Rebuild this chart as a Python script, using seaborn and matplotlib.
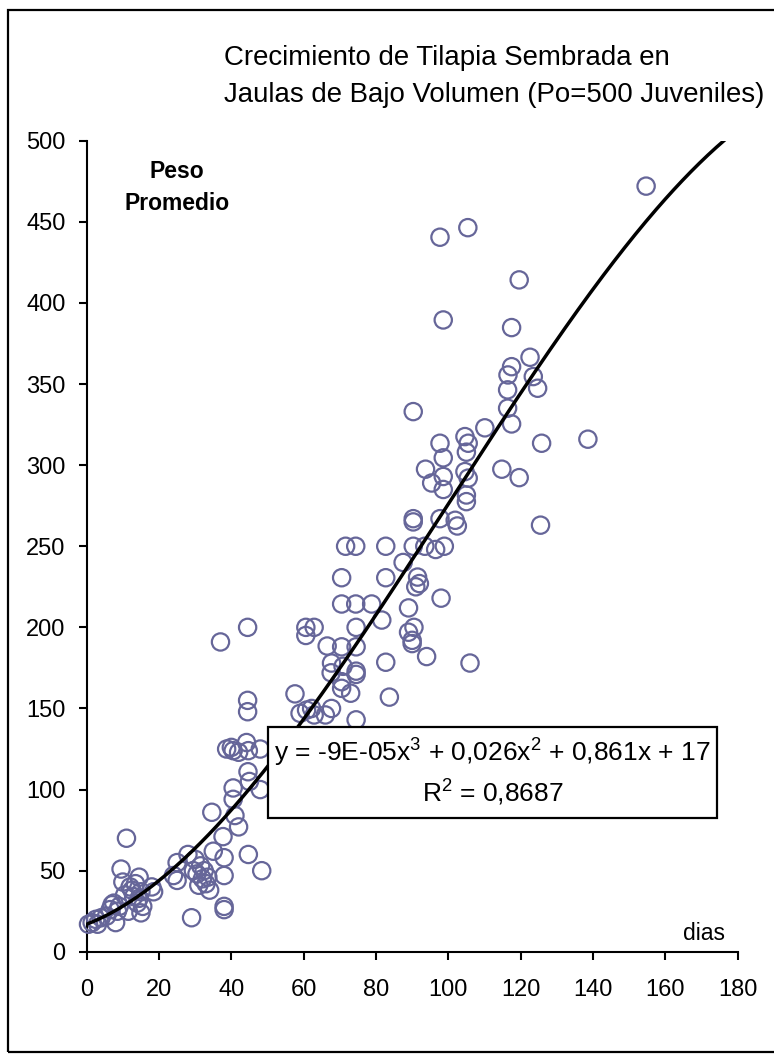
import numpy as np
import pandas as pd
import seaborn as sns
import matplotlib
matplotlib.use("Agg")
import matplotlib.pyplot as plt
from matplotlib.patches import Rectangle

# ---------------- data ----------------
dias = [0.5, 1.5, 2.5, 3, 4, 5.5, 6.5, 7, 7.5, 8, 8.5, 9, 9.5, 10, 10.5, 11, 11.5, 12, 12.5, 13,
        13.5, 14, 14.5, 14.5, 15, 15, 15.5, 18, 18.5,
        24, 25, 25, 28, 29, 29.5, 30, 30.5, 31, 31.5, 32, 32.5, 33, 33.5, 34, 35, 34.6, 37, 38, 38,
        38, 38, 37.7, 38.7, 40, 40.5, 42, 40.5, 40.5, 41, 42, 44.5, 44.5, 44.5, 44.2, 44.7, 44.6, 45,
        48, 48, 48.4, 44.7,
        57.6, 59, 60.6, 62.9, 60.6, 60.8, 62.2, 62.9, 66.5, 67.7, 67.6, 67.7, 66, 70.5, 74.5, 70.9,
        74.5, 74.5, 70.5, 70.5, 73, 74.5, 74.5, 71.6, 74.4, 82.7, 70.5, 82.7, 70.5, 74.4, 78.8, 81.6,
        82.7, 83.7,
        90.3, 87.5, 89, 89, 90, 90, 90.5, 91, 91.5, 92, 94, 98, 90.3, 90.3, 90.3, 93.5, 96.5, 98.9,
        93.7, 95.4, 97.7, 98.6, 98.6, 98.6, 98.6, 97.7, 97.7, 101.9, 102.5,
        104.6, 105.5, 105, 104.6, 105.5, 105, 105, 105.4, 106, 110.1, 114.8, 116.5, 116.4, 116.4,
        117.5, 117.5, 117.5, 119.6, 119.6, 122.6, 123.5, 124.7, 125.8, 125.5, 138.6, 154.7]
peso = [17, 18, 20, 17, 21, 22, 26, 29, 30, 18, 25, 28, 51, 43, 35, 70, 25, 40, 38, 34,
        42, 30, 33, 46, 37, 24, 28, 40, 37,
        47, 44, 55, 60, 21, 50, 57, 48, 41, 53, 45, 50, 42, 46, 38, 62, 86, 191, 28, 26,
        47, 58, 71, 125, 126, 124, 123, 101, 94, 84, 77, 200, 155, 148, 129, 124, 111, 105,
        125, 100, 50, 60,
        159, 147, 200, 200, 195, 149, 150, 146, 188.5, 178, 172, 150, 146, 188, 188, 176,
        173, 171, 166.5, 162.4, 159.4, 143, 200, 250, 250, 250, 230.6, 230.6, 214.4, 214.4, 214.4, 204.5,
        178.5, 157,
        333, 240, 212, 197, 192, 190, 200, 225, 231, 227, 182, 218, 267, 265, 250, 250, 248, 250,
        297.5, 289, 313.5, 304.5, 293, 285, 389.5, 440.5, 267, 266, 262.5,
        317.6, 313.5, 308, 296, 292, 281.6, 277.5, 446.4, 178, 323, 297.5, 355.6, 346.4, 335.1,
        360.7, 384.8, 325.4, 414.2, 292.3, 366.5, 354.6, 347.4, 313.5, 263, 316, 472]

# trendline coefficients (cubic, highest power first)
coef = [-8.7e-05, 0.026, 0.861, 17.0]
trend_end = 176.5

x_ticks = [0, 20, 40, 60, 80, 100, 120, 140, 160, 180]
y_ticks = [0, 50, 100, 150, 200, 250, 300, 350, 400, 450, 500]

title_lines = ["Crecimiento de Tilapia Sembrada en",
               "Jaulas de Bajo Volumen (Po=500 Juveniles)"]
ylabel_lines = ["Peso", "Promedio"]
xlabel = "dias"
eq_line1 = r"y = -9E-05x$^{\mathrm{3}}$ + 0,026x$^{\mathrm{2}}$ + 0,861x + 17"
eq_line2 = r"R$^{\mathrm{2}}$ = 0,8687"

# ---------------- style ----------------
sns.set_theme(style="white")
plt.rcParams['font.family'] = ['Liberation Sans', 'DejaVu Sans']
plt.rcParams['mathtext.fontset'] = 'custom'
plt.rcParams['mathtext.rm'] = 'Liberation Sans'
plt.rcParams['mathtext.it'] = 'Liberation Sans:italic'
plt.rcParams['mathtext.bf'] = 'Liberation Sans:bold'
plt.rcParams['text.color'] = 'black'
plt.rcParams['xtick.color'] = 'black'
plt.rcParams['ytick.color'] = 'black'
plt.rcParams['axes.labelcolor'] = 'black'

W, H = 774, 1063
fig = plt.figure(figsize=(W / 100, H / 100), dpi=100)
fig.patch.set_facecolor('white')

x0, x1 = 86.7, 737.6
y_top, y_bot = 140.7, 951.8
ax = fig.add_axes([x0 / W, 1 - y_bot / H, (x1 - x0) / W, (y_bot - y_top) / H])
ax.set_facecolor('none')

mcolor = '#666699'
df = pd.DataFrame({'dias': dias, 'peso': peso})
sns.scatterplot(data=df, x='dias', y='peso', ax=ax, marker='o', s=155,
                facecolor='none', edgecolor=mcolor, linewidth=1.6,
                clip_on=False, zorder=3, legend=False)
for coll in ax.collections:
    coll.set_facecolor('none')
    coll.set_edgecolor(mcolor)

xs = np.linspace(0, trend_end, 300)
ys = np.polyval(coef, xs)
sns.lineplot(x=xs, y=ys, ax=ax, color='black', linewidth=2.5, zorder=4,
             legend=False, sort=False, estimator=None)

ax.set_xlim(0, 180)
ax.set_ylim(0, 500)
ax.set_xticks(x_ticks)
ax.set_yticks(y_ticks)
ax.set_xticklabels([str(t) for t in x_ticks])
ax.set_yticklabels([str(t) for t in y_ticks])
ax.set_xlabel('')
ax.set_ylabel('')
for s in ['top', 'right']:
    ax.spines[s].set_visible(False)
for s in ['left', 'bottom']:
    ax.spines[s].set_color('black')
    ax.spines[s].set_linewidth(1.5)
ax.tick_params(axis='both', which='major', direction='out', length=5.8, width=1.5,
               color='black', labelsize=17, labelcolor='black')
ax.tick_params(axis='x', pad=14, bottom=True)
ax.tick_params(axis='y', pad=9.5, left=True)
ax.grid(False)

# title
fig.text(224 / W, 1 - 65 / H, title_lines[0], fontsize=19.9, ha='left', va='baseline', color='black')
fig.text(224 / W, 1 - 102 / H, title_lines[1], fontsize=19.9, ha='left', va='baseline', color='black')

# y label (bold, inside plot)
fig.text(177 / W, 1 - 172 / H, ylabel_lines[0], fontsize=16.5, fontweight='bold', ha='center',
         va='center', color='black')
fig.text(177 / W, 1 - 203 / H, ylabel_lines[1], fontsize=16.5, fontweight='bold', ha='center',
         va='center', color='black')

# x label
fig.text(704 / W, 1 - 933 / H, xlabel, fontsize=16.5, ha='center', va='center', color='black')

# equation box
bx0, bx1, by0, by1 = 268, 717, 727, 818
fig.add_artist(Rectangle((bx0 / W, 1 - by1 / H), (bx1 - bx0) / W, (by1 - by0) / H,
                         transform=fig.transFigure, facecolor='white', edgecolor='black',
                         linewidth=1.6, zorder=10))
fig.text((bx0 + bx1) / 2 / W, 1 - 753 / H, eq_line1, fontsize=19, ha='center', va='center',
         zorder=11, color='black')
fig.text((bx0 + bx1) / 2 / W, 1 - 793 / H, eq_line2, fontsize=19, ha='center', va='center',
         zorder=11, color='black')

# outer frame (left, top, bottom)
fig.add_artist(Rectangle((8 / W, 1 - 1052 / H), (800 - 8) / W, (1052 - 10) / H,
                         transform=fig.transFigure, facecolor='none', edgecolor='black',
                         linewidth=1.6, zorder=0, clip_on=False))

fig.savefig('out.png', dpi=100, facecolor='white')
